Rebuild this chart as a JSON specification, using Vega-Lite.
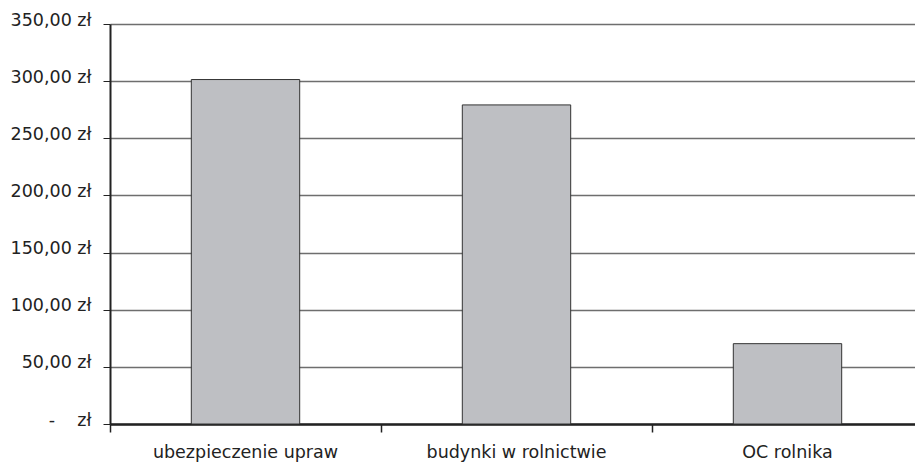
{
  "$schema": "https://vega.github.io/schema/vega-lite/v6.json",
  "autosize": {"type": "none"},
  "padding": {"left": 110, "top": 24, "right": 0, "bottom": 39},
  "width": 813,
  "height": 400,
  "background": "white",
  "config": {
    "view": {"stroke": null},
    "axis": {"labelFont": "DejaVu Sans", "labelFontSize": 17.5, "labelColor": "#222222", "titleFont": "DejaVu Sans"}
  },
  "data": {
    "values": [
      {"kategoria": "ubezpieczenie upraw", "kwota": 301.4},
      {"kategoria": "budynki w rolnictwie", "kwota": 279.2},
      {"kategoria": "OC rolnika", "kwota": 70.3}
    ]
  },
  "mark": {"type": "bar", "width": {"band": 0.4}, "fill": "#bebfc3", "stroke": "#333333", "strokeWidth": 1},
  "encoding": {
    "x": {
      "field": "kategoria",
      "type": "nominal",
      "sort": null,
      "scale": {"paddingInner": 0, "paddingOuter": 0},
      "axis": {
        "title": null,
        "labelAngle": 0,
        "labelLimit": 0,
        "bandPosition": 0,
        "domainColor": "#222222",
        "domainWidth": 2.5,
        "tickColor": "#222222",
        "tickWidth": 1.5,
        "tickSize": 8,
        "labelPadding": 11,
        "labelBaseline": "top"
      }
    },
    "y": {
      "field": "kwota",
      "type": "quantitative",
      "scale": {"domain": [0, 350], "nice": false, "zero": true},
      "axis": {
        "title": null,
        "values": [0, 50, 100, 150, 200, 250, 300, 350],
        "labelExpr": "datum.value == 0 ? '-\u00a0\u00a0\u00a0\u00a0zł' : replace(format(datum.value, '.2f'), '.', ',') + ' zł'",
        "labelOffset": -4,
        "domainColor": "#222222",
        "domainWidth": 2,
        "tickColor": "#222222",
        "tickWidth": 1,
        "tickSize": 7,
        "labelPadding": 12,
        "grid": true,
        "gridColor": "#6e6e6e",
        "gridWidth": 1.5
      }
    }
  }
}
